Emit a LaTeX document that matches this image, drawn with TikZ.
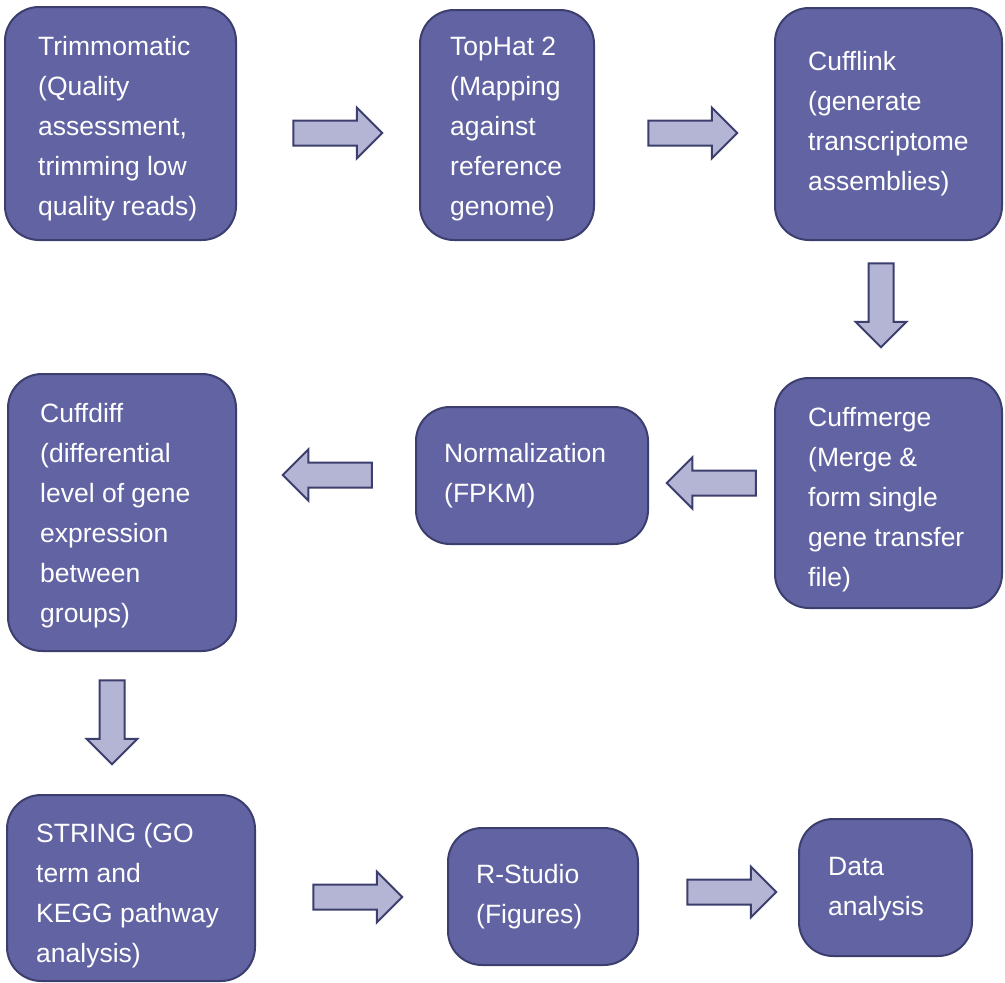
\documentclass[tikz,border=0pt]{standalone}
\usepackage{fontspec}
\setmainfont{Liberation Sans}
\usetikzlibrary{shapes.arrows}
\definecolor{boxfill}{RGB}{98,99,163}
\definecolor{boxline}{RGB}{60,62,110}
\definecolor{arrfill}{RGB}{180,180,212}
\tikzset{
  box/.style={draw=boxline, line width=2pt, fill=boxfill, rounded corners=34pt},
  lbl/.style={anchor=base west, align=left, inner sep=0pt, text=white,
    font=\fontsize{26.5pt}{40pt}\selectfont},
  blockarrow/.style={shape=single arrow, draw=boxline, line width=2pt, fill=arrfill,
    minimum height=89pt, inner sep=11.5pt, single arrow head extend=13pt,
    anchor=center},
  downarrow/.style={blockarrow, shape border rotate=270, minimum height=84pt},
}
\begin{document}
\begin{tikzpicture}[x=1pt,y=-1pt]
\useasboundingbox (0,0) rectangle (1005,983);
% boxes
\draw[box] (5,7) rectangle (236,240);
\node[lbl] (t1) at (38,215) {Trimmomatic\\(Quality\\assessment,\\trimming low\\quality reads)};
\draw[box] (420,10) rectangle (594,240);
\node[lbl] (t2) at (450,215) {TopHat 2\\(Mapping\\against\\reference\\genome)};
\draw[box] (775,8) rectangle (1002,240);
\node[lbl] (t3) at (808,190) {Cufflink\\(generate\\transcriptome\\assemblies)};
\draw[box] (775,378) rectangle (1002,608);
\node[lbl] (t4) at (808,586) {Cuffmerge\\(Merge \&\\form single\\gene transfer\\file)};
\draw[box] (416,407) rectangle (648,544);
\node[lbl] (t5) at (444,502) {Normalization\\(FPKM)};
\draw[box] (8,374) rectangle (236,651);
\node[lbl] (t6) at (40,622) {Cuffdiff\\(differential\\level of gene\\expression\\between\\groups)};
\draw[box] (7,795) rectangle (255,981);
\node[lbl] (t7) at (36,962) {STRING (GO\\term and\\KEGG pathway\\analysis)};
\draw[box] (448,828) rectangle (638,965);
\node[lbl] (t8) at (476,923) {R-Studio\\(Figures)};
\draw[box] (799,819) rectangle (972,956);
\node[lbl] (t9) at (828,915) {Data\\analysis};
% arrows
\node[blockarrow] (a1) at (331.5,133) {};
\node[blockarrow] (a2) at (686.5,133) {};
\node[downarrow] (a3) at (881,299) {};
\node[blockarrow, shape border rotate=180] (a4) at (717.5,483) {};
\node[blockarrow, shape border rotate=180] (a5) at (333.5,475) {};
\node[downarrow] (a6) at (112,716) {};
\node[blockarrow] (a7) at (351.5,897) {};
\node[blockarrow] (a8) at (725.5,892) {};
\end{tikzpicture}
\end{document}
